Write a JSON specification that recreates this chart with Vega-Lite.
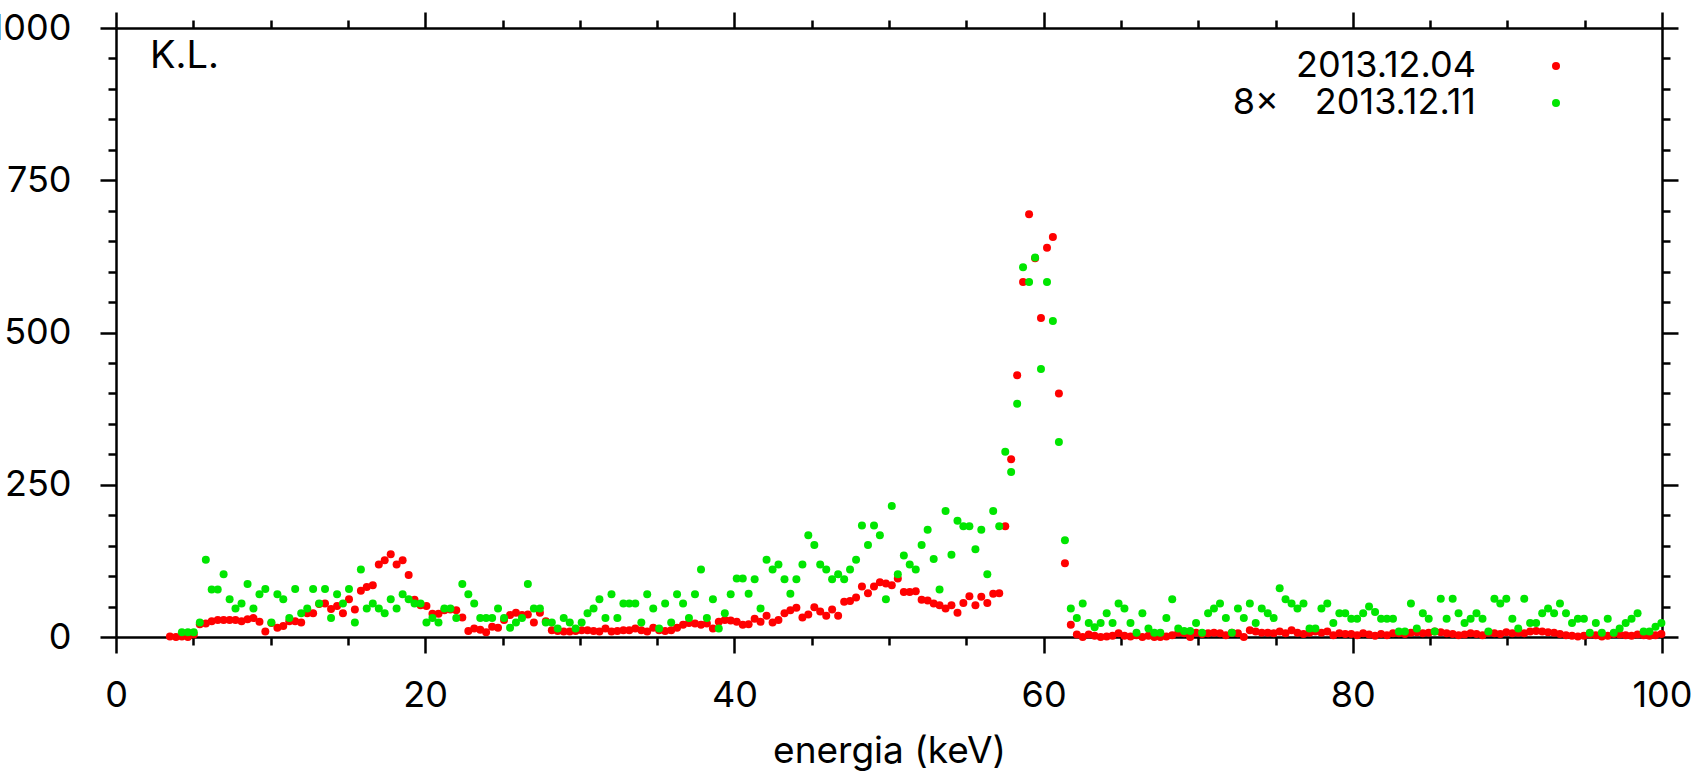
{
"$schema": "https://vega.github.io/schema/vega-lite/v6.json",
"width": 1546, "height": 609,
"autosize": {"type": "none"},
"padding": {"left": 116, "top": 28, "right": 43, "bottom": 136},
"background": "white",
"config": {"view": {"stroke": null}, "font": "Inter"},
"data": {"values": [
{"e":3.49,"a":1},{"e":3.88,"a":0},{"e":4.26,"a":1,"b":8},{"e":4.65,"a":0,"b":8},{"e":5.03,"a":4,"b":8},{"e":5.42,"a":21,"b":24},{"e":5.81,"a":22,"b":127},{"e":6.19,"a":26,"b":78},{"e":6.58,"a":28,"b":78},{"e":6.96,"a":28,"b":103},{"e":7.35,"a":28,"b":62},{"e":7.73,"a":28,"b":47},{"e":8.12,"a":26,"b":55},{"e":8.51,"a":29,"b":87},{"e":8.89,"a":31,"b":47},{"e":9.28,"a":25,"b":70},{"e":9.66,"a":9,"b":79},{"e":10.05,"a":23,"b":24},{"e":10.44,"a":15,"b":70},{"e":10.82,"a":18,"b":62},{"e":11.21,"a":26,"b":31},{"e":11.59,"a":26,"b":79},{"e":11.98,"a":24,"b":39},{"e":12.37,"a":39,"b":47},{"e":12.75,"a":39,"b":79},{"e":13.14,"a":54,"b":55},{"e":13.52,"a":55,"b":79},{"e":13.91,"a":46,"b":31},{"e":14.30,"a":51,"b":70},{"e":14.68,"a":39,"b":55},{"e":15.07,"a":62,"b":79},{"e":15.45,"a":45,"b":24},{"e":15.84,"a":76,"b":111},{"e":16.22,"a":82,"b":47},{"e":16.61,"a":85,"b":55},{"e":17.00,"a":119,"b":47},{"e":17.38,"a":126,"b":39},{"e":17.77,"a":136,"b":62},{"e":18.15,"a":119,"b":47},{"e":18.54,"a":126,"b":70},{"e":18.93,"a":102,"b":62},{"e":19.31,"a":61,"b":55},{"e":19.70,"a":52,"b":55},{"e":20.08,"a":51,"b":24},{"e":20.47,"a":38,"b":31},{"e":20.86,"a":38,"b":24},{"e":21.24,"a":44,"b":47},{"e":21.63,"a":45,"b":47},{"e":22.01,"a":44,"b":31},{"e":22.40,"a":32,"b":87},{"e":22.79,"a":10,"b":70},{"e":23.17,"a":14,"b":55},{"e":23.56,"a":12,"b":31},{"e":23.94,"a":8,"b":31},{"e":24.33,"a":17,"b":31},{"e":24.71,"a":15,"b":47},{"e":25.10,"a":28,"b":31},{"e":25.49,"a":36,"b":15},{"e":25.87,"a":40,"b":24},{"e":26.26,"a":36,"b":31},{"e":26.64,"a":37,"b":87},{"e":27.03,"a":24,"b":47},{"e":27.42,"a":40,"b":47},{"e":27.80,"a":26,"b":24},{"e":28.19,"a":11,"b":24},{"e":28.57,"a":10,"b":14},{"e":28.96,"a":9,"b":31},{"e":29.35,"a":9,"b":24},{"e":29.73,"a":10,"b":14},{"e":30.12,"a":11,"b":24},{"e":30.50,"a":11,"b":39},{"e":30.89,"a":10,"b":47},{"e":31.27,"a":9,"b":62},{"e":31.66,"a":14,"b":31},{"e":32.05,"a":9,"b":70},{"e":32.43,"a":10,"b":31},{"e":32.82,"a":11,"b":55},{"e":33.20,"a":11,"b":55},{"e":33.59,"a":14,"b":55},{"e":33.98,"a":11,"b":24},{"e":34.36,"a":9,"b":70},{"e":34.75,"a":15,"b":47},{"e":35.13,"a":11,"b":14},{"e":35.52,"a":10,"b":55},{"e":35.91,"a":11,"b":24},{"e":36.29,"a":15,"b":70},{"e":36.68,"a":20,"b":55},{"e":37.06,"a":23,"b":31},{"e":37.45,"a":22,"b":70},{"e":37.84,"a":20,"b":111},{"e":38.22,"a":22,"b":31},{"e":38.61,"a":14,"b":62},{"e":38.99,"a":25,"b":14},{"e":39.38,"a":28,"b":39},{"e":39.76,"a":27,"b":70},{"e":40.15,"a":25,"b":96},{"e":40.54,"a":20,"b":96},{"e":40.92,"a":21,"b":71},{"e":41.31,"a":30,"b":95},{"e":41.69,"a":25,"b":47},{"e":42.08,"a":35,"b":127},{"e":42.47,"a":24,"b":111},{"e":42.85,"a":28,"b":119},{"e":43.24,"a":39,"b":95},{"e":43.62,"a":44,"b":71},{"e":44.01,"a":48,"b":95},{"e":44.40,"a":32,"b":119},{"e":44.78,"a":37,"b":167},{"e":45.17,"a":49,"b":151},{"e":45.55,"a":42,"b":119},{"e":45.94,"a":35,"b":111},{"e":46.32,"a":45,"b":95},{"e":46.71,"a":35,"b":103},{"e":47.10,"a":58,"b":95},{"e":47.48,"a":59,"b":111},{"e":47.87,"a":65,"b":127},{"e":48.25,"a":83,"b":183},{"e":48.64,"a":72,"b":151},{"e":49.03,"a":83,"b":183},{"e":49.41,"a":90,"b":167},{"e":49.80,"a":88,"b":62},{"e":50.18,"a":85,"b":215},{"e":50.57,"a":96,"b":103},{"e":50.96,"a":74,"b":134},{"e":51.34,"a":74,"b":119},{"e":51.73,"a":75,"b":111},{"e":52.11,"a":61,"b":151},{"e":52.50,"a":60,"b":176},{"e":52.89,"a":55,"b":128},{"e":53.27,"a":52,"b":78},{"e":53.66,"a":47,"b":207},{"e":54.04,"a":52,"b":135},{"e":54.43,"a":40,"b":191},{"e":54.81,"a":56,"b":182},{"e":55.20,"a":67,"b":182},{"e":55.59,"a":52,"b":144},{"e":55.97,"a":66,"b":176},{"e":56.36,"a":56,"b":103},{"e":56.74,"a":71,"b":207},{"e":57.13,"a":72,"b":182},{"e":57.52,"a":182,"b":304},{"e":57.90,"a":292,"b":271},{"e":58.29,"a":430,"b":383},{"e":58.67,"a":583,"b":607},{"e":59.06,"a":694,"b":583},{"e":59.45,"a":622,"b":623},{"e":59.83,"a":524,"b":440},{"e":60.22,"a":639,"b":583},{"e":60.60,"a":657,"b":519},{"e":60.99,"a":400,"b":320},{"e":61.38,"a":121,"b":159},{"e":61.76,"a":20,"b":47},{"e":62.15,"a":4,"b":31},
{"e":62.53,"a":0,"b":55},{"e":62.92,"a":4,"b":23},{"e":63.30,"a":2,"b":16},{"e":63.69,"a":0,"b":23},{"e":64.08,"a":1,"b":39},{"e":64.46,"a":2,"b":23},{"e":64.85,"a":6,"b":55},{"e":65.23,"a":2,"b":47},{"e":65.62,"a":1,"b":23},{"e":66.01,"a":3,"b":7},{"e":66.39,"a":0,"b":39},{"e":66.78,"a":2,"b":14},{"e":67.16,"a":0,"b":7},{"e":67.55,"a":0,"b":7},{"e":67.94,"a":1,"b":31},{"e":68.32,"a":3,"b":62},{"e":68.71,"a":7,"b":14},{"e":69.09,"a":6,"b":10},{"e":69.48,"a":0,"b":10},{"e":69.86,"a":7,"b":23},{"e":70.25,"a":5,"b":7},{"e":70.64,"a":6,"b":39},{"e":71.02,"a":7,"b":47},{"e":71.41,"a":6,"b":55},{"e":71.79,"a":3,"b":31},{"e":72.18,"a":7,"b":7},{"e":72.57,"a":6,"b":47},{"e":72.95,"a":0,"b":31},{"e":73.34,"a":11,"b":55},{"e":73.72,"a":9,"b":23},{"e":74.11,"a":7,"b":47},{"e":74.50,"a":7,"b":39},{"e":74.88,"a":6,"b":31},{"e":75.27,"a":9,"b":80},{"e":75.65,"a":6,"b":62},{"e":76.04,"a":11,"b":55},{"e":76.42,"a":7,"b":47},{"e":76.81,"a":5,"b":55},{"e":77.20,"a":7,"b":14},{"e":77.58,"a":9,"b":14},{"e":77.97,"a":7,"b":47},{"e":78.35,"a":9,"b":55},{"e":78.74,"a":3,"b":23},{"e":79.13,"a":6,"b":39},{"e":79.51,"a":5,"b":39},{"e":79.90,"a":5,"b":30},{"e":80.28,"a":3,"b":30},{"e":80.67,"a":6,"b":39},{"e":81.05,"a":4,"b":50},{"e":81.44,"a":2,"b":41},{"e":81.83,"a":5,"b":30},{"e":82.21,"a":3,"b":30},{"e":82.60,"a":6,"b":30},{"e":82.98,"a":6,"b":9},{"e":83.37,"a":5,"b":9},{"e":83.76,"a":7,"b":55},{"e":84.14,"a":8,"b":14},{"e":84.53,"a":6,"b":39},{"e":84.91,"a":7,"b":30},{"e":85.30,"a":9,"b":9},{"e":85.69,"a":8,"b":63},{"e":86.07,"a":6,"b":30},{"e":86.46,"a":5,"b":63},{"e":86.84,"a":3,"b":39},{"e":87.23,"a":4,"b":23},{"e":87.62,"a":6,"b":30},{"e":88.00,"a":5,"b":39},{"e":88.39,"a":3,"b":30},{"e":88.77,"a":7,"b":9},{"e":89.16,"a":6,"b":63},{"e":89.54,"a":5,"b":55},{"e":89.93,"a":8,"b":63},{"e":90.32,"a":6,"b":30},{"e":90.70,"a":7,"b":14},{"e":91.09,"a":6,"b":63},{"e":91.47,"a":9,"b":23},{"e":91.86,"a":10,"b":23},{"e":92.25,"a":9,"b":39},{"e":92.63,"a":8,"b":47},{"e":93.02,"a":7,"b":39},{"e":93.40,"a":5,"b":55},{"e":93.79,"a":3,"b":39},{"e":94.18,"a":2,"b":23},{"e":94.56,"a":1,"b":30},{"e":94.95,"a":2,"b":30},{"e":95.33,"a":4,"b":7},{"e":95.72,"a":3,"b":23},{"e":96.11,"a":1,"b":7},{"e":96.49,"a":2,"b":30},{"e":96.88,"a":5,"b":7},{"e":97.26,"a":4,"b":14},{"e":97.65,"a":3,"b":23},{"e":98.03,"a":2,"b":30},{"e":98.42,"a":4,"b":39},{"e":98.81,"a":3,"b":9},{"e":99.19,"a":2,"b":9},{"e":99.58,"a":3,"b":17},{"e":99.96,"a":5,"b":23}
]},
"transform": [{"fold": ["a", "b"], "as": ["s", "v"]}, {"filter": "isValid(datum.v)"}],
"resolve": {"axis": {"x": "independent", "y": "independent"}},
"layer": [
{
"transform": [{"filter": "datum.s == 'a'"}],
"mark": {"type": "circle", "size": 64, "opacity": 1},
"encoding": {
"x": {"field": "e", "type": "quantitative", "scale": {"domain": [0, 100], "nice": false, "zero": false},
 "axis": {"orient": "bottom", "values": [0,5,10,15,20,25,30,35,40,45,50,55,60,65,70,75,80,85,90,95,100],
 "format": "d", "labelExpr": "datum.value % 20 == 0 ? datum.label : ''", "labelOverlap": false, "labelFlush": false,
 "tickSize": {"condition": {"test": "datum.value % 20 == 0", "value": 16}, "value": 8},
 "tickWidth": 2.5, "tickColor": "black", "domainColor": "black", "domainWidth": 2.5, "grid": false,
 "labelFont": "Inter", "labelFontSize": 36, "labelColor": "black", "labelPadding": 25,
 "title": "energia (keV)", "titleFont": "Inter", "titleFontSize": 37, "titleFontWeight": "normal", "titleColor": "black", "titlePadding": 20}},
"y": {"field": "v", "type": "quantitative", "scale": {"domain": [0, 1000], "nice": false},
 "axis": {"orient": "left", "values": [0,50,100,150,200,250,300,350,400,450,500,550,600,650,700,750,800,850,900,950,1000],
 "format": "d", "labelExpr": "datum.value % 250 == 0 ? datum.label : ''", "labelOverlap": false, "labelFlush": false,
 "tickSize": {"condition": {"test": "datum.value % 250 == 0", "value": 16}, "value": 8},
 "tickWidth": 2.5, "tickColor": "black", "domainColor": "black", "domainWidth": 2.5, "grid": false,
 "labelFont": "Inter", "labelFontSize": 36, "labelColor": "black", "labelPadding": 29, "title": null}},
"color": {"field": "s", "type": "nominal", "scale": {"domain": ["a", "b"], "range": ["#ff0000", "#00e600"]},
 "legend": {"orient": "none", "legendX": 1422, "legendY": 20, "title": null, "padding": 0, "symbolOffset": 0,
 "labelExpr": "datum.value == 'a' ? '2013.12.04' : '8×\u20032013.12.11'",
 "labelFont": "Inter", "labelFontSize": 36, "labelColor": "black", "labelAlign": "right", "labelOffset": -98, "labelLimit": 600,
 "symbolType": "circle", "symbolSize": 64, "symbolStrokeWidth": 0, "rowPadding": 1}}
}
},
{
"transform": [{"filter": "datum.s == 'b'"}],
"mark": {"type": "circle", "size": 64, "opacity": 1},
"encoding": {
"x": {"field": "e", "type": "quantitative", "scale": {"domain": [0, 100], "nice": false, "zero": false},
 "axis": {"orient": "top", "values": [0,5,10,15,20,25,30,35,40,45,50,55,60,65,70,75,80,85,90,95,100],
 "labels": false, "tickSize": {"condition": {"test": "datum.value % 20 == 0", "value": 16}, "value": 8},
 "tickWidth": 2.5, "tickColor": "black", "domainColor": "black", "domainWidth": 2.5, "grid": false, "title": null}},
"y": {"field": "v", "type": "quantitative", "scale": {"domain": [0, 1000], "nice": false},
 "axis": {"orient": "right", "values": [0,50,100,150,200,250,300,350,400,450,500,550,600,650,700,750,800,850,900,950,1000],
 "labels": false, "tickSize": {"condition": {"test": "datum.value % 250 == 0", "value": 16}, "value": 8},
 "tickWidth": 2.5, "tickColor": "black", "domainColor": "black", "domainWidth": 2.5, "grid": false, "title": null}},
"color": {"field": "s", "type": "nominal", "scale": {"domain": ["a", "b"], "range": ["#ff0000", "#00e600"]},
 "legend": {"orient": "none", "legendX": 1422, "legendY": 20, "title": null, "padding": 0, "symbolOffset": 0,
 "labelExpr": "datum.value == 'a' ? '2013.12.04' : '8×\u20032013.12.11'",
 "labelFont": "Inter", "labelFontSize": 36, "labelColor": "black", "labelAlign": "right", "labelOffset": -98, "labelLimit": 600,
 "symbolType": "circle", "symbolSize": 64, "symbolStrokeWidth": 0, "rowPadding": 1}}
}
},
{
"data": {"values": [{"t": "K.L."}]},
"mark": {"type": "text", "align": "left", "baseline": "middle", "font": "Inter", "fontSize": 38, "color": "black"},
"encoding": {
"x": {"datum": 2.2, "type": "quantitative", "axis": null},
"y": {"datum": 952, "type": "quantitative", "axis": null},
"text": {"field": "t", "type": "nominal"}
}
}
]
}
